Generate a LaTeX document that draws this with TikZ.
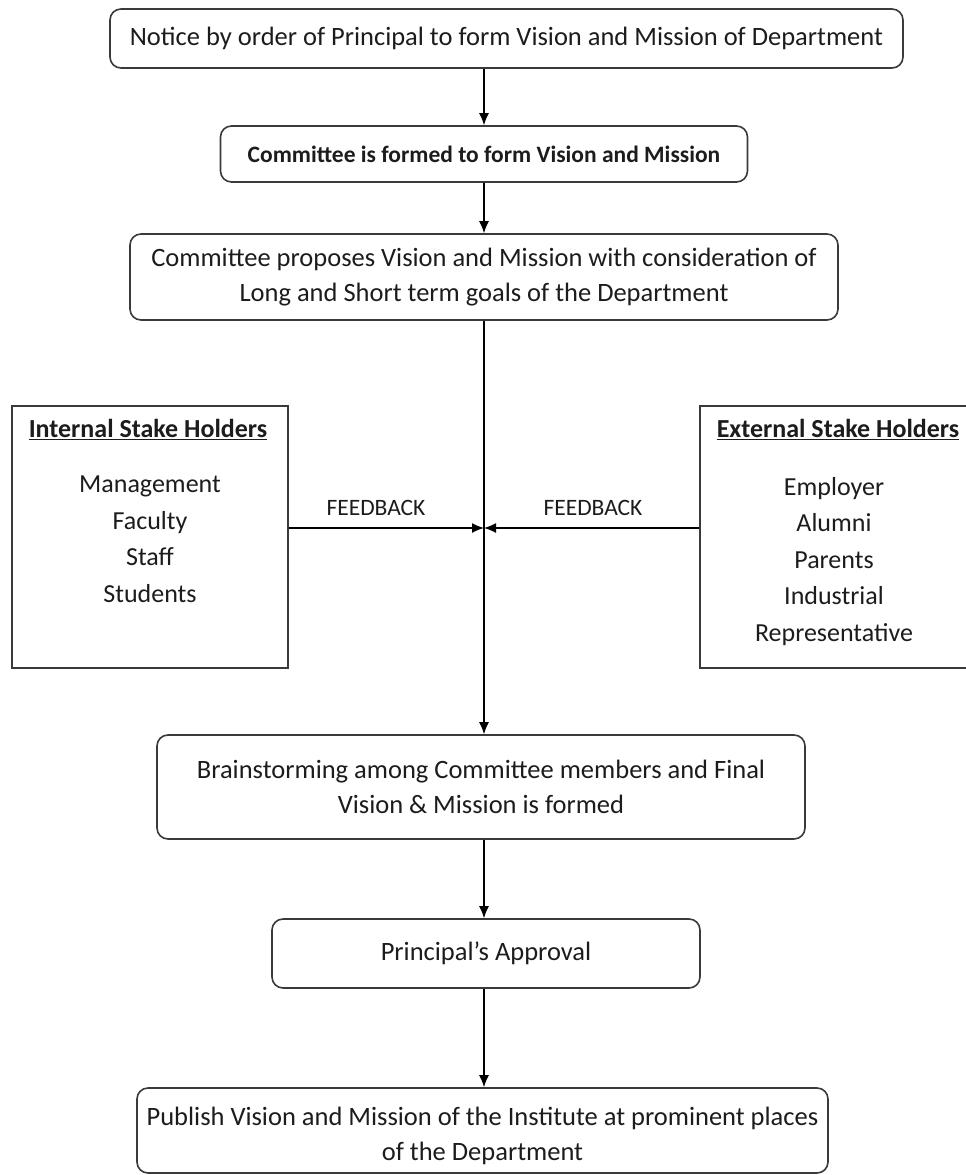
\documentclass[tikz,border=0pt]{standalone}
\usepackage{fontspec}
\setmainfont{Carlito}
\usetikzlibrary{arrows.meta}
\definecolor{ink}{HTML}{1C1C1C}
\definecolor{edge}{HTML}{3A3A3A}
\begin{document}
\begin{tikzpicture}[x=1pt,y=-1pt,
  roundbox/.style={draw=edge,line width=1.6pt,rounded corners=11pt,inner sep=0pt,align=center,text=ink},
  plainbox/.style={draw=edge,line width=1.8pt,inner sep=0pt,text=ink},
  flow/.style={draw=black,line width=1.3pt,-{Latex[length=12pt,width=10pt]}},
  txt/.style={font=\fontsize{26.5}{35}\selectfont},
  stk/.style={text=ink,align=center,anchor=north,inner sep=0pt,font=\fontsize{26}{36.5}\selectfont},
  lbl/.style={text=ink,font=\fontsize{23.5}{26}\selectfont,inner sep=0pt}]
\useasboundingbox (0,0) rectangle (966,1175);

% main flow boxes
\node[roundbox,txt,minimum width=793pt,minimum height=59pt] (b1) at (506.5,38.5)
  {Notice by order of Principal to form Vision and Mission of Department};
\node[roundbox,font=\bfseries\fontsize{23.5}{30}\selectfont,minimum width=527pt,minimum height=56pt] (b2) at (484,154)
  {Committee is formed to form Vision and Mission};
\node[roundbox,txt,minimum width=708pt,minimum height=86pt] (b3) at (484,277)
  {Committee proposes Vision and Mission with consideration of\\Long and Short term goals of the Department};
\node[roundbox,txt,minimum width=648pt,minimum height=104pt] (b4) at (481,787)
  {Brainstorming among Committee members and Final\\Vision \& Mission is formed};
\node[roundbox,txt,minimum width=428pt,minimum height=69pt] (b5) at (486,953.5)
  {Principal's Approval};
\node[roundbox,minimum width=691pt,minimum height=85pt] (b6) at (482.5,1130.5) {};
\node[txt,text=ink,align=center,inner sep=0pt] (b6t) at (482.5,1135.5)
  {Publish Vision and Mission of the Institute at prominent places\\of the Department};

% stakeholder boxes
\node[plainbox,minimum width=276pt,minimum height=262pt] (int) at (150,537) {};
\node[plainbox,minimum width=270pt,minimum height=262pt] (ext) at (835,537) {};
\node[stk] (intt) at (148,419) {\textbf{\underline{Internal Stake Holders}}};
\node[stk] (intl) at (150,476) {Management\\Faculty\\Staff\\Students};
\node[stk] (extt) at (838,419) {\textbf{\underline{External Stake Holders}}};
\node[stk] (extl) at (834,477) {Employer\\Alumni\\Parents\\Industrial\\Representative};

% spine and feedback junction
\coordinate (spine) at (484,0);
\coordinate (meet) at (484,528);
\draw[flow] (b1.south -| spine) -- (b2.north -| spine);
\draw[flow] (b2.south -| spine) -- (b3.north -| spine);
\draw[flow] (b3.south -| spine) -- (b4.north -| spine);
\draw[flow] (b4.south -| spine) -- (b5.north -| spine);
\draw[flow] (b5.south -| spine) -- (b6.north -| spine);
\draw[flow] (int.east |- meet) -- (meet);
\draw[flow] (ext.west |- meet) -- (meet);
\node[lbl] (fbl) at (376,508) {FEEDBACK};
\node[lbl] (fbr) at (593,508) {FEEDBACK};
\end{tikzpicture}
\end{document}
